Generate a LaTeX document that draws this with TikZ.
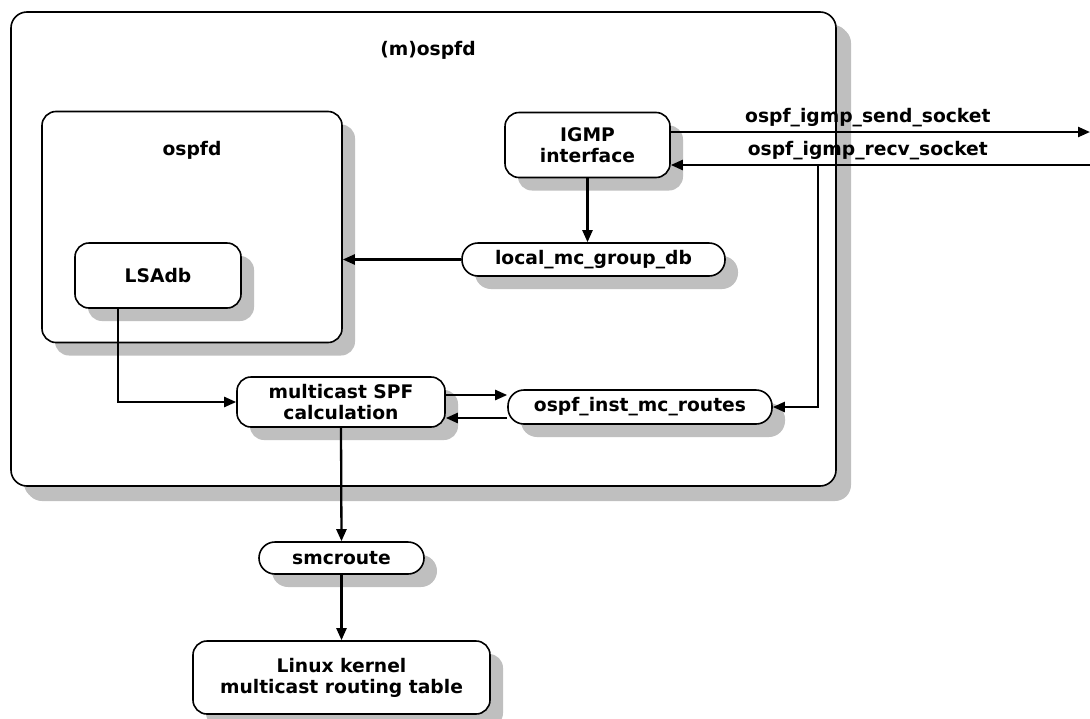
\documentclass[tikz,border=0pt]{standalone}
\usepackage{fontspec}
\setmainfont{DejaVu Sans}
\usetikzlibrary{arrows.meta,shadows}
\begin{document}
\begin{tikzpicture}[x=1pt,y=-1pt,
  every node/.style={font=\bfseries\fontsize{18.7}{21}\selectfont, text=black},
  box/.style={draw=black, line width=1.6pt, fill=white, rounded corners=14pt, align=center, inner sep=0pt,
    drop shadow={shadow xshift=13pt, shadow yshift=-13pt, fill=black!25, opacity=1}},
  pill/.style={box, rounded corners=16pt},
  conn/.style={line width=2.3pt, draw=black},
  arr/.style={conn, -{Triangle[length=12pt,width=10pt]}},
  lbl/.style={inner sep=0pt}
]
\useasboundingbox (0,0) rectangle (1090,718);
% outer box
\node[box, rounded corners=16pt, minimum width=825pt, minimum height=474pt,
  drop shadow={shadow xshift=15pt, shadow yshift=-15pt, fill=black!25, opacity=1}] (outer) at (423.5,249) {};
\node[lbl] (outertitle) at (428,50) {(m)ospfd};
% ospfd box
\node[box, minimum width=300pt, minimum height=231pt] (ospfd) at (192,227) {};
\node[lbl] (ospfdtitle) at (192,150) {ospfd};
\node[box, minimum width=166pt, minimum height=65pt] (lsadb) at (158,275.5) {LSAdb};
% IGMP
\node[box, minimum width=165pt, minimum height=65pt] (igmp) at (587.5,145) {IGMP\\interface};
\node[pill, minimum width=263pt, minimum height=33pt] (local) at (593.5,259.5) {local\_mc\_group\_db};
\node[box, minimum width=208pt, minimum height=50pt] (spf) at (341,402) {multicast SPF\\calculation};
\node[pill, minimum width=264pt, minimum height=34pt] (inst) at (640,407) {ospf\_inst\_mc\_routes};
\node[pill, minimum width=165pt, minimum height=32pt] (smc) at (341.5,558) {smcroute};
\node[box, minimum width=297pt, minimum height=73pt] (linux) at (341.5,677.5) {Linux kernel\\multicast routing table};
% external endpoints
\coordinate (sendend) at (1090,132);
\coordinate (recvstart) at (1090,165);
\coordinate (branch) at (818,165);
% connectors
\draw[arr] (igmp.east |- sendend) -- (sendend) node[lbl, pos=0.47, above=4pt] (sendlbl) {ospf\_igmp\_send\_socket};
\draw[arr] (recvstart) -- (igmp.east |- recvstart) node[lbl, pos=0.53, above=4pt] (recvlbl) {ospf\_igmp\_recv\_socket};
\draw[arr] (branch) -- (branch |- inst.east) -- (inst.east);
\draw[arr] (igmp.south) -- (local.north -| igmp.south);
\draw[arr] (local.west) -- (ospfd.east |- local.west);
\draw[arr] (lsadb.south -| 118,0) -- (118,402) -- (spf.west);
\draw[arr] (spf.east |- 0,395) -- (inst.west |- 0,395);
\draw[arr] (inst.west |- 0,418) -- (spf.east |- 0,418);
\draw[arr] (spf.south) -- (smc.north);
\draw[arr] (smc.south) -- (linux.north);
\end{tikzpicture}
\end{document}
